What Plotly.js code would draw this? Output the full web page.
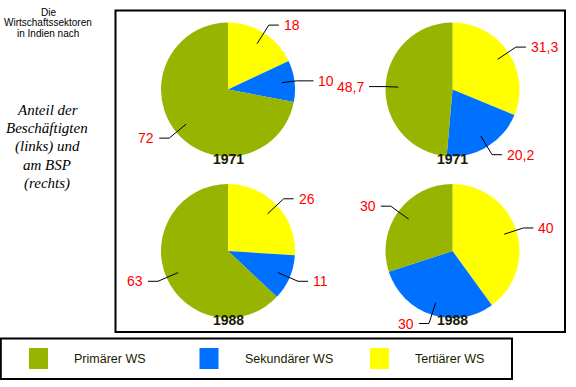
<!DOCTYPE html>
<html>
<head>
<meta charset="utf-8">
<script src="https://cdn.plot.ly/plotly-3.0.1.min.js"></script>
<style>html,body{margin:0;padding:0;background:#fff;}#chart{width:576px;height:387px;}</style>
</head>
<body>
<div id="chart"></div>
<script>
// ---- data ----
const categories = ['Primärer WS', 'Sekundärer WS', 'Tertiärer WS'];
const employment1971 = [72, 10, 18];
const gdp1971 = [48.7, 20.2, 31.3];
const employment1988 = [63, 11, 26];
const gdp1988 = [30, 30, 40];
const yearLabels = ['1971', '1971', '1988', '1988'];
const sideTitle = ['Die', 'Wirtschaftssektoren', 'in Indien nach'];
const sideNote = ['Anteil der', 'Beschäftigten', '(links) und', 'am BSP', '(rechts)'];

// ---- styles / layout ----
const colors = ['#96b400', '#0070ff', '#ffff00'];
const W = 576, H = 387;
const px = x => x / W, py = y => 1 - y / H;
const pieSeries = [employment1971, gdp1971, employment1988, gdp1988];
const centersX = [228, 452.5, 228, 452.5];
const centersY = [89.5, 89.5, 251, 251];
const R = 67;

const traces = [];
const shapes = [];
const annotations = [];

pieSeries.forEach((vals, k) => {
  const cx = centersX[k], cy = centersY[k];
  // slices run counterclockwise from 12 o'clock: Primär, Sekundär, Tertiär
  // (drawn as the reversed order going clockwise from 12 o'clock)
  traces.push({
    type: 'pie', values: vals.slice().reverse(), labels: categories.slice().reverse(), sort: false,
    direction: 'clockwise', rotation: 0,
    marker: {colors: colors.slice().reverse(), line: {width: 0}},
    textinfo: 'none', hoverinfo: 'none', showlegend: false,
    domain: {x: [px(cx - R), px(cx + R)], y: [py(cy + R), py(cy - R)]}
  });
  // leader lines + value labels
  const total = vals.reduce((a, b) => a + b, 0);
  let cum = 0;
  vals.forEach(v => {
    const a = (cum + v / 2) / total * 2 * Math.PI; // ccw from 12 o'clock
    cum += v;
    const ux = -Math.sin(a), uy = -Math.cos(a);
    const sx = cx + 0.81 * R * ux, sy = cy + 0.81 * R * uy;
    const L = Math.min(22, 11 + 30 * Math.abs(uy));
    const bx = sx + L * ux, by = sy + L * uy;
    const sgn = ux >= 0 ? 1 : -1;
    const hl = Math.abs(uy) < 0.3 ? 17 : 10;
    const ex = bx + sgn * hl;
    shapes.push({type: 'path', xref: 'paper', yref: 'paper',
      path: `M ${px(sx)} ${py(sy)} L ${px(bx)} ${py(by)} L ${px(ex)} ${py(by)}`,
      line: {color: '#000', width: 1}});
    annotations.push({xref: 'paper', yref: 'paper', x: px(ex + sgn * 3), y: py(by),
      xanchor: sgn > 0 ? 'left' : 'right', yanchor: 'middle', showarrow: false,
      text: String(v).replace('.', ','),
      font: {family: 'Liberation Sans, Arial, sans-serif', size: 14, color: '#ff0000'}});
  });
  annotations.push({xref: 'paper', yref: 'paper', x: px(cx), y: py(cy + 69),
    xanchor: 'center', yanchor: 'middle', showarrow: false, text: '<b>' + yearLabels[k] + '</b>',
    font: {family: 'Liberation Sans, Arial, sans-serif', size: 14, color: '#1a1a00'}});
});

// frames
shapes.push({type: 'rect', xref: 'paper', yref: 'paper', x0: px(115.5), x1: px(565), y0: py(332), y1: py(10.5),
  line: {color: '#000', width: 2}, layer: 'above'});
shapes.push({type: 'rect', xref: 'paper', yref: 'paper', x0: px(0.8), x1: px(512), y0: py(379), y1: py(338.5),
  line: {color: '#000', width: 2}});

// legend
categories.forEach((c, i) => {
  const x0 = 29 + i * 170.5;
  shapes.push({type: 'rect', xref: 'paper', yref: 'paper', x0: px(x0), x1: px(x0 + 19), y0: py(369), y1: py(348),
    fillcolor: colors[i], line: {width: 0}});
  annotations.push({xref: 'paper', yref: 'paper', x: px(x0 + 43), y: py(359), xanchor: 'left', yanchor: 'middle',
    showarrow: false, text: c, font: {family: 'Liberation Sans, Arial, sans-serif', size: 12.5, color: '#1a1a00'}});
});

// side texts
sideTitle.forEach((t, i) => {
  annotations.push({xref: 'paper', yref: 'paper', x: px(48), y: py(12 + i * 10.8), xanchor: 'center', yanchor: 'middle',
    showarrow: false, text: t, font: {family: 'Liberation Sans, Arial, sans-serif', size: 10, color: '#000'}});
});
sideNote.forEach((t, i) => {
  annotations.push({xref: 'paper', yref: 'paper', x: px(47), y: py(110 + i * 18.3), xanchor: 'center', yanchor: 'middle',
    showarrow: false, text: '<i>' + t + '</i>', font: {family: 'Liberation Serif, Times New Roman, serif', size: 15, color: '#000'}});
});

Plotly.newPlot('chart', traces, {
  width: W, height: H, margin: {l: 0, r: 0, t: 0, b: 0},
  paper_bgcolor: '#fff', plot_bgcolor: '#fff',
  shapes: shapes, annotations: annotations, showlegend: false
}, {displayModeBar: false, staticPlot: true});
</script>
</body>
</html>
